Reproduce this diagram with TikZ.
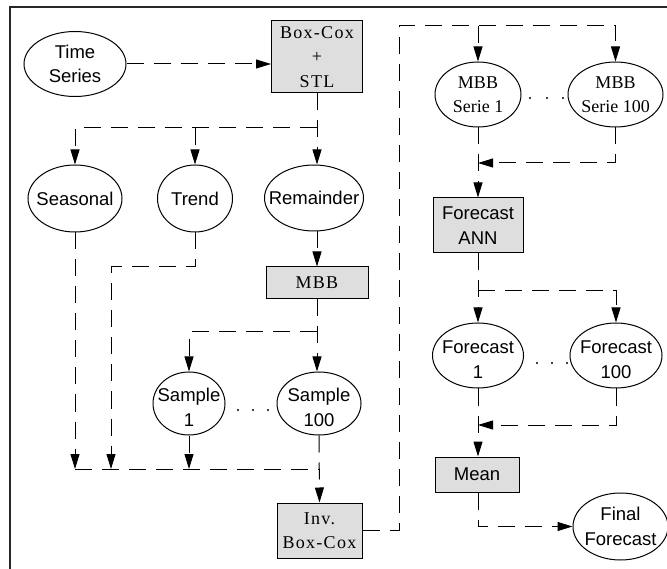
\documentclass[tikz,border=0pt]{standalone}
\usepackage{fontspec}
\setmainfont{Liberation Serif}
\newfontfamily\sansf{Liberation Sans}
\newfontfamily\serifls[LetterSpace=7]{Liberation Serif}
\usetikzlibrary{arrows.meta,shapes.geometric}
\definecolor{boxgray}{RGB}{222,222,222}
\begin{document}
\begin{tikzpicture}[x=1pt,y=-1pt,
  ell/.style={ellipse,draw,line width=1pt,inner sep=0pt},
  gbox/.style={rectangle,draw,fill=boxgray,line width=1pt,inner sep=0pt,align=center},
  tsans/.style={font=\sansf\fontsize{18.5}{24.5}\selectfont,align=center,inner sep=0pt},
  tserif/.style={font=\fontsize{18}{24.5}\selectfont,align=center,inner sep=0pt},
  tls/.style={font=\serifls\fontsize{18}{24.5}\selectfont},
  dsh/.style={line width=1pt,dash pattern=on 17pt off 10pt},
  arr/.style={-{Triangle[length=15pt,width=9pt]}},
  frame/.style={line width=1.4pt,black!85}
]
\useasboundingbox (0,0) rectangle (667,569);

% outer frame (left and top edges)
\draw[frame] (10,569) -- (10,7) -- (667,7);

% ---- left column: decomposition and bootstrap ----
\node[ell,minimum width=102pt,minimum height=65pt] (ts) at (75,64) {};
\node[tsans] (ts-t) at (ts) {Time\\Series};

\node[gbox,tls,minimum width=91pt,minimum height=72pt] (stl) at (317,57) {Box-Cox\\+\\STL};

\node[ell,minimum width=94pt,minimum height=67pt] (sea) at (75,198.5) {};
\node[tsans] (sea-t) at (sea) {Seasonal};
\node[ell,minimum width=75pt,minimum height=67pt] (tre) at (195,198.5) {};
\node[tsans] (tre-t) at (tre) {Trend};
\node[ell,minimum width=99pt,minimum height=66pt] (rem) at (314,198) {};
\node[tsans] (rem-t) at (rem) {Remainder};

\node[gbox,tls,minimum width=102pt,minimum height=32pt] (mbb) at (317,283) {MBB};

\node[ell,minimum width=72pt,minimum height=63pt] (s1) at (189,403.5) {};
\node[tsans,yshift=-4pt] (s1-t) at (s1) {Sample\\1};
\node[ell,minimum width=84pt,minimum height=63pt] (s100) at (319,403.5) {};
\node[tsans,yshift=-4pt] (s100-t) at (s100) {Sample\\100};

\node[gbox,tls,minimum width=85pt,minimum height=55pt] (inv) at (319.5,530.5) {Inv.\\Box-Cox};

% ---- right column: forecasting ----
\node[ell,minimum width=86pt,minimum height=65pt] (m1) at (478,94.5) {};
\node[tserif] (m1-t) at (m1) {MBB\\Serie 1};
\node[ell,minimum width=95pt,minimum height=65pt] (m100) at (615.5,94.5) {};
\node[tserif] (m100-t) at (m100) {MBB\\Serie 100};

\node[gbox,tsans,minimum width=90pt,minimum height=55pt] (ann) at (478,225.5) {Forecast\\ANN};

\node[ell,minimum width=91pt,minimum height=65pt] (f1) at (478,355.5) {};
\node[tsans,yshift=-4pt] (f1-t) at (f1) {Forecast\\1};
\node[ell,minimum width=92pt,minimum height=65pt] (f100) at (616,355.5) {};
\node[tsans,yshift=-4pt] (f100-t) at (f100) {Forecast\\100};

\node[gbox,tsans,minimum width=84pt,minimum height=35pt] (mean) at (477,474.5) {Mean};

\node[ell,minimum width=95pt,minimum height=67pt] (fin) at (620.5,526.5) {};
\node[tsans] (fin-t) at (fin) {Final\\Forecast};

% ellipsis dots between the replicated nodes
\foreach \x in {238,253,268} \fill (\x,410) circle (1.1pt);
\foreach \x in {530,547,563} \fill (\x,98) circle (1.1pt);
\foreach \x in {537,552,567} \fill (\x,363) circle (1.1pt);

% junction points
\coordinate (j1) at (317,128);
\coordinate (k1) at (111,267);
\coordinate (j2) at (317,332);
\coordinate (bus) at (319,469);
\coordinate (r1) at (399,26);
\coordinate (j3) at (478,163);
\coordinate (j4) at (478,291);
\coordinate (j5) at (478,425);

% ---- connectors, left column ----
\draw[dsh,arr] (ts.east) -- (ts.east -| stl.west);
\draw[dsh,arr] (stl.south) -- (stl.south |- rem.north);
\draw[dsh,arr] (j1) -| (sea.north);
\draw[dsh,arr] (j1 -| tre.north) -- (tre.north);
\draw[dsh,arr] (rem.south -| mbb.south) -- (mbb.north);
\draw[dsh,arr] (mbb.south) -- (mbb.south |- s100.north);
\draw[dsh,arr] (j2) -| (s1.north);
\draw[dsh,arr] (sea.south) -- (sea.south |- bus);
\draw[dsh,arr] (tre.south) -- (tre.south |- k1) -- (k1) -- (k1 |- bus);
\draw[dsh,arr] (s1.south) -- (s1.south |- bus);
\draw[dsh] (sea.south |- bus) -- (bus);
\draw[dsh,arr] (s100.south) -- (inv.north);

% ---- connectors, right column ----
\draw[dsh,arr] (inv.east) -| (r1) -| (m100.north);
\draw[dsh,arr] (m1.north |- r1) -- (m1.north);
\draw[dsh,arr] (m1.south) -- (ann.north);
\draw[dsh,arr] (m100.south) |- (j3);
\draw[dsh,arr] (ann.south) -- (f1.north);
\draw[dsh,arr] (j4) -| (f100.north);
\draw[dsh,arr] (f1.south) -- (f1.south |- mean.north);
\draw[dsh,arr] (f100.south) |- (j5);
\draw[dsh,arr] (f1.south |- mean.south) |- (fin.west);
\end{tikzpicture}
\end{document}
